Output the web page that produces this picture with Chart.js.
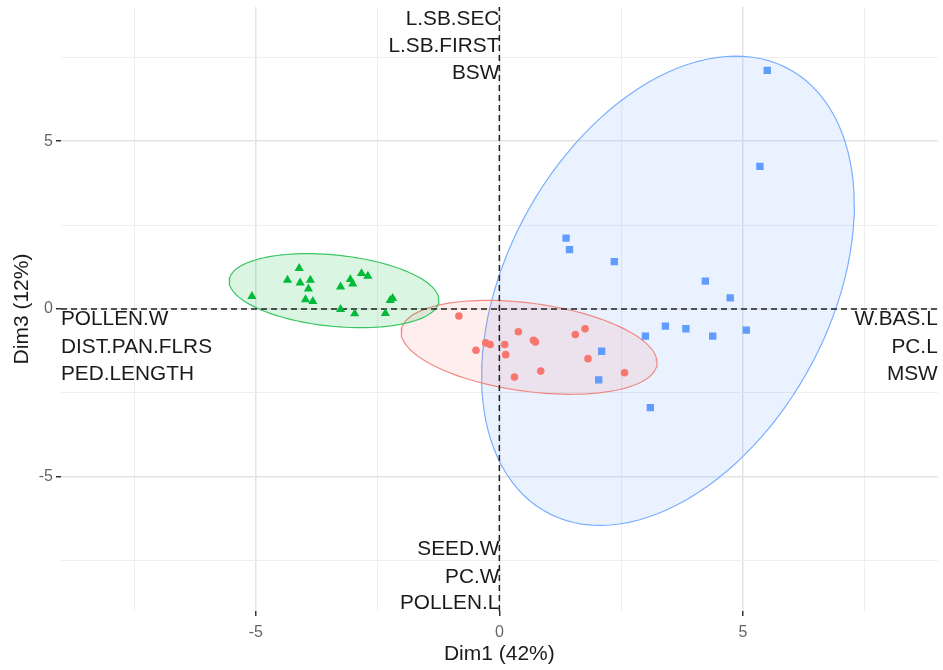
<!DOCTYPE html>
<html>
<head>
<meta charset="utf-8">
<script src="https://cdn.jsdelivr.net/npm/chart.js@4/dist/chart.umd.min.js"></script>
<style>
  html, body { margin: 0; padding: 0; background: #ffffff; }
  #wrap { width: 943px; height: 670px; }
</style>
</head>
<body>
<div id="wrap"><canvas id="c" width="943" height="670"></canvas></div>
<script>
// Individual coordinates on Dim1 / Dim3, one pair of arrays per group
const group1X = [-5.08, -4.11, -4.35, -4.09, -3.88, -3.92, -3.98, -3.83, -3.26, -3.06, -3.01, -2.83, -2.70, -3.26, -2.97, -2.24, -2.19, -2.34];
const group1Y = [ 0.38,  1.21,  0.86,  0.78,  0.86,  0.60,  0.28,  0.23,  0.66,  0.88,  0.75,  1.06,  0.98, -0.01, -0.14,  0.26,  0.32, -0.13];

const group2X = [-0.83, -0.48, -0.28, -0.19, 0.11, 0.13, 0.39, 0.70, 0.74, 0.31, 0.85, 1.56, 1.76, 1.82, 2.57];
const group2Y = [-0.21, -1.23, -1.01, -1.06, -1.06, -1.36, -0.68, -0.93, -0.98, -2.03, -1.85, -0.76, -0.59, -1.48, -1.90];

const group3X = [5.50, 5.35, 1.37, 1.44, 2.36, 4.23, 4.74, 3.00, 3.41, 3.83, 4.38, 5.07, 2.10, 2.04, 3.10];
const group3Y = [7.11, 4.25, 2.11, 1.77, 1.41, 0.83, 0.33, -0.81, -0.51, -0.59, -0.81, -0.63, -1.26, -2.11, -2.94];

// Variable labels and where they sit
const varsTop    = ['L.SB.SEC', 'L.SB.FIRST', 'BSW'];
const varsTopY   = [8.64, 7.84, 7.04];
const varsBottom = ['SEED.W', 'PC.W', 'POLLEN.L'];
const varsBottomY = [-7.17, -7.99, -8.77];
const varsLeft   = ['POLLEN.W', 'DIST.PAN.FLRS', 'PED.LENGTH'];
const varsRight  = ['W.BAS.L', 'PC.L', 'MSW'];
const varsSideY  = [-0.31, -1.15, -1.95];

// Axis settings
const axisMin = -9, axisMax = 9;
const gridValues = [-7.5, -5, -2.5, 0, 2.5, 5, 7.5];
const labelledTicks = [-5, 0, 5];
const xTitle = 'Dim1 (42%)';
const yTitle = 'Dim3 (12%)';

const colGreen = '#00BA38', colRed = '#F8766D', colBlue = '#619CFF';

function toPoints(xs, ys) { return xs.map((x, i) => ({ x: x, y: ys[i] })); }

// 95% normal-theory data ellipse (mean, sample covariance, F(2, n-1) radius)
function normEllipse(xs, ys, level, segs) {
  const n = xs.length;
  const mx = xs.reduce((a, b) => a + b, 0) / n;
  const my = ys.reduce((a, b) => a + b, 0) / n;
  let sxx = 0, syy = 0, sxy = 0;
  for (let i = 0; i < n; i++) {
    const dx = xs[i] - mx, dy = ys[i] - my;
    sxx += dx * dx; syy += dy * dy; sxy += dx * dy;
  }
  sxx /= (n - 1); syy /= (n - 1); sxy /= (n - 1);
  const a = Math.sqrt(sxx), b = sxy / a, c = Math.sqrt(syy - b * b);
  const d = n - 1;
  const q = (d / 2) * (Math.pow(1 - level, -2 / d) - 1);
  const r = Math.sqrt(2 * q);
  const pts = [];
  for (let k = 0; k <= segs; k++) {
    const t = 2 * Math.PI * k / segs;
    const ct = Math.cos(t), st = Math.sin(t);
    pts.push({ x: mx + r * a * ct, y: my + r * (b * ct + c * st) });
  }
  return pts;
}

function pointSet(xs, ys, color, style, radius) {
  return {
    type: 'scatter', data: toPoints(xs, ys), order: 0,
    pointStyle: style, pointRadius: radius, pointHoverRadius: radius,
    backgroundColor: color, borderColor: color, borderWidth: 0
  };
}

function ellipseSet(xs, ys, color, fillColor) {
  return {
    type: 'scatter', data: normEllipse(xs, ys, 0.95, 120), order: 2,
    showLine: true, pointRadius: 0, pointHoverRadius: 0,
    borderColor: color, borderWidth: 1.2, backgroundColor: fillColor,
    fill: 'shape', tension: 0
  };
}

function zeroLine(points) {
  return {
    type: 'scatter', data: points, order: 1,
    showLine: true, pointRadius: 0, pointHoverRadius: 0,
    borderColor: '#222222', borderWidth: 1.5, borderDash: [6, 4], fill: false
  };
}

const isMajor = v => labelledTicks.indexOf(v) !== -1;

// Writes the variable names next to the axes
const varLabels = {
  id: 'varLabels',
  afterDatasetsDraw(chart) {
    const { ctx, scales: { x, y } } = chart;
    ctx.save();
    ctx.font = '20.8px "Liberation Sans", Arial, sans-serif';
    ctx.fillStyle = '#1a1a1a';
    ctx.textBaseline = 'middle';
    ctx.textAlign = 'right';
    varsTop.forEach((t, i) => ctx.fillText(t, x.getPixelForValue(0), y.getPixelForValue(varsTopY[i])));
    varsBottom.forEach((t, i) => ctx.fillText(t, x.getPixelForValue(0), y.getPixelForValue(varsBottomY[i])));
    varsRight.forEach((t, i) => ctx.fillText(t, x.getPixelForValue(axisMax), y.getPixelForValue(varsSideY[i])));
    ctx.textAlign = 'left';
    varsLeft.forEach((t, i) => ctx.fillText(t, x.getPixelForValue(axisMin), y.getPixelForValue(varsSideY[i])));
    ctx.restore();
  }
};

function axisOptions(titleText, titlePadding, isX) {
  return {
    type: 'linear', min: axisMin, max: axisMax,
    position: isX ? 'bottom' : 'left',
    afterBuildTicks(scale) { scale.ticks = gridValues.map(v => ({ value: v })); },
    afterFit(scale) {
      if (isX) { scale.height = 59; scale.paddingLeft = 0; scale.paddingRight = 0; }
      else { scale.width = 61; scale.paddingTop = 0; scale.paddingBottom = 0; }
    },
    border: { display: false },
    grid: {
      color: ctx => (ctx.tick && isMajor(ctx.tick.value)) ? '#e4e4e4' : '#eeeeee',
      lineWidth: ctx => (ctx.tick && isMajor(ctx.tick.value)) ? 1.5 : 1.1,
      tickColor: ctx => (ctx.tick && isMajor(ctx.tick.value)) ? '#333333' : 'rgba(0,0,0,0)',
      tickLength: 5, drawTicks: true
    },
    ticks: {
      autoSkip: false, maxRotation: 0, minRotation: 0,
      padding: isX ? 7 : 3,
      color: '#666666',
      font: { family: '"Liberation Sans", Arial, sans-serif', size: 16 },
      callback: v => isMajor(v) ? String(v) : ''
    },
    title: {
      display: true, text: titleText, color: '#1a1a1a',
      font: { family: '"Liberation Sans", Arial, sans-serif', size: 21 },
      padding: titlePadding
    }
  };
}

new Chart(document.getElementById('c'), {
  type: 'scatter',
  data: {
    datasets: [
      pointSet(group1X, group1Y, colGreen, 'triangle', 5.3),
      pointSet(group2X, group2Y, colRed, 'circle', 3.8),
      pointSet(group3X, group3Y, colBlue, 'rect', 5.2),
      zeroLine([{ x: 0, y: axisMin }, { x: 0, y: axisMax }]),
      zeroLine([{ x: axisMin, y: 0 }, { x: axisMax, y: 0 }]),
      ellipseSet(group1X, group1Y, '#3cc563', 'rgba(0,186,56,0.14)'),
      ellipseSet(group2X, group2Y, '#f08a83', 'rgba(248,118,109,0.12)'),
      ellipseSet(group3X, group3Y, '#7aaeff', 'rgba(97,156,255,0.13)')
    ]
  },
  options: {
    responsive: false,
    devicePixelRatio: 1,
    animation: false,
    layout: { padding: { left: 0, right: 4, top: 7, bottom: 0 } },
    plugins: { legend: { display: false }, tooltip: { enabled: false } },
    scales: {
      x: axisOptions(xTitle, { top: 0, bottom: 3 }, true),
      y: axisOptions(yTitle, { top: 10, bottom: 0 }, false)
    }
  },
  plugins: [varLabels]
});
</script>
</body>
</html>
